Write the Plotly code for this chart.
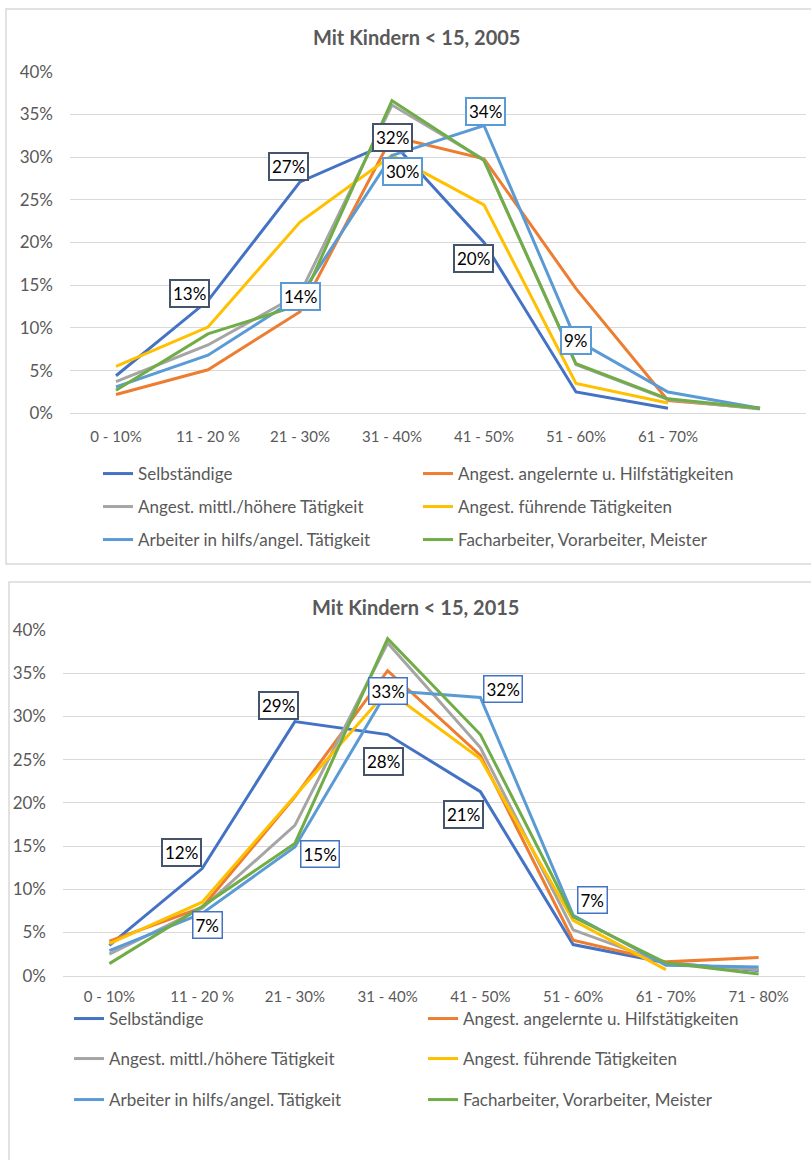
import plotly.graph_objects as go

# ---------------- data ----------------
categories_2005 = ["0 - 10%", "11 - 20 %", "21 - 30%", "31 - 40%", "41 - 50%", "51 - 60%", "61 - 70%", ""]
categories_2015 = ["0 - 10%", "11 - 20 %", "21 - 30%", "31 - 40%", "41 - 50%", "51 - 60%", "61 - 70%", "71 - 80%"]

series_names = [
    "Selbständige",
    "Angest. angelernte u. Hilfstätigkeiten",
    "Angest. mittl./höhere Tätigkeit",
    "Angest. führende Tätigkeiten",
    "Arbeiter in hilfs/angel. Tätigkeit",
    "Facharbeiter, Vorarbeiter, Meister",
]
series_colors = ["#4472C4", "#ED7D31", "#A5A5A5", "#FFC000", "#5B9BD5", "#70AD47"]

# values in percent, 2005
selb_2005 = [4.4, 13.2, 27.1, 31.8, 20.0, 2.5, 0.6, None]
angel_2005 = [2.2, 5.1, 11.9, 32.4, 29.8, 14.6, 1.5, 0.6]
mittl_2005 = [3.7, 8.0, 14.0, 36.1, 29.7, 5.7, 1.6, 0.5]
fuehr_2005 = [5.5, 10.1, 22.4, 30.2, 24.4, 3.5, 1.2, None]
arbhilf_2005 = [3.1, 6.8, 13.7, 30.2, 33.7, 8.6, 2.5, 0.6]
fach_2005 = [2.7, 9.3, 12.7, 36.6, 29.6, 5.8, 1.7, 0.6]

# values in percent, 2015
selb_2015 = [3.5, 12.4, 29.4, 27.9, 21.3, 3.6, 1.5, 0.6]
angel_2015 = [4.0, 7.9, 20.7, 35.3, 25.5, 4.1, 1.6, 2.1]
mittl_2015 = [2.5, 7.8, 17.4, 38.5, 26.4, 5.3, 1.4, 0.7]
fuehr_2015 = [3.7, 8.5, 20.8, 33.0, 25.1, 6.4, 0.7, None]
arbhilf_2015 = [2.9, 7.2, 14.9, 33.0, 32.2, 7.0, 1.2, 1.0]
fach_2015 = [1.4, 8.0, 15.3, 39.0, 27.9, 6.8, 1.5, 0.2]

y_ticks = [0, 5, 10, 15, 20, 25, 30, 35, 40]
y_tick_labels = [f"{t}%" for t in y_ticks]

data_2005 = [selb_2005, angel_2005, mittl_2005, fuehr_2005, arbhilf_2005, fach_2005]
data_2015 = [selb_2015, angel_2015, mittl_2015, fuehr_2015, arbhilf_2015, fach_2015]

# data labels: (series index, point index, xshift, yshift, border colour, border width)
labels_2005 = [
    (0, 1, -19, 7, "#44546A", 2), (0, 2, -12, 15, "#44546A", 2),
    (0, 3, 0, 4, "#44546A", 2), (0, 4, -11, -16, "#44546A", 2),
    (4, 2, 0, 0, "#5B9BD5", 2), (4, 3, 10, -16, "#5B9BD5", 2),
    (4, 4, 1, 14, "#5B9BD5", 2), (4, 5, 0, -1, "#5B9BD5", 2),
]
labels_2015 = [
    (0, 1, -21, 16, "#44546A", 2), (0, 2, -16, 16, "#44546A", 2),
    (0, 3, -4, -27, "#44546A", 2), (0, 4, -17, -23, "#44546A", 2),
    (4, 1, 5, -12, "#4472C4", 1.5), (4, 2, 25, -7, "#4472C4", 1.5),
    (4, 3, 0, 0, "#4472C4", 1.5), (4, 4, 23, 8, "#4472C4", 1.5),
    (4, 5, 19, 15, "#4472C4", 1.5),
]

# ---------------- layout helpers ----------------
W, H = 811, 1160
FONT = "Lato"
TXT = "#595959"
GRID = "#D9D9D9"


def px_x(p):
    return p / W


def px_y(p):
    return 1 - p / H


fig = go.Figure()

panels = [
    dict(data=data_2005, cats=categories_2005, xa="x", ya="y", labels=labels_2005,
         legend_cols=[103, 423], legend_rows=[474, 507, 540], legend_start=1),
    dict(data=data_2015, cats=categories_2015, xa="x2", ya="y2", labels=labels_2015,
         legend_cols=[74, 428], legend_rows=[1019, 1059, 1100], legend_start=7),
]

annotations = []
legend_layouts = {}
for p in panels:
    xs = list(range(len(p["cats"])))
    for si, vals in enumerate(p["data"]):
        lg_num = p["legend_start"] + si
        lg_name = "legend" if lg_num == 1 else f"legend{lg_num}"
        fig.add_trace(go.Scatter(
            x=xs, y=vals, mode="lines", name=series_names[si],
            line=dict(color=series_colors[si], width=3),
            xaxis=p["xa"], yaxis=p["ya"], legend=lg_name, showlegend=True,
            hoverinfo="skip",
        ))
        row, col = si // 2, si % 2
        legend_layouts[lg_name] = dict(
            x=px_x(p["legend_cols"][col] - 5), xanchor="left",
            y=px_y(p["legend_rows"][row]), yanchor="middle",
            orientation="h", bgcolor="rgba(0,0,0,0)", borderwidth=0,
            font=dict(family=FONT, size=17, color=TXT),
        )
    for (si, pi, dx, dy, bc, bw) in p["labels"]:
        v = p["data"][si][pi]
        annotations.append(dict(
            x=pi, y=v, xref=p["xa"], yref=p["ya"], text=f"{round(v)}%",
            showarrow=False, xshift=dx, yshift=dy,
            font=dict(family=FONT, size=17, color="#000000"),
            bgcolor="#FFFFFF", bordercolor=bc, borderwidth=bw, borderpad=2,
        ))

# titles
annotations.append(dict(text="<b>Mit Kindern < 15, 2005</b>", x=px_x(416), y=px_y(37),
                        xref="paper", yref="paper", showarrow=False,
                        xanchor="center", yanchor="middle",
                        font=dict(family=FONT, size=20, color=TXT)))
annotations.append(dict(text="<b>Mit Kindern < 15, 2015</b>", x=px_x(415), y=px_y(607),
                        xref="paper", yref="paper", showarrow=False,
                        xanchor="center", yanchor="middle",
                        font=dict(family=FONT, size=20, color=TXT)))

axis_common_x = dict(
    range=[-0.5, 7.5], showgrid=False, zeroline=False, showline=True,
    linecolor=GRID, linewidth=1, ticks="outside", tickcolor="rgba(0,0,0,0)",
    tickfont=dict(family=FONT, size=15, color=TXT), automargin=False, fixedrange=True,
)
axis_common_y = dict(
    range=[0, 40], tickvals=y_ticks, ticktext=y_tick_labels, showgrid=True, gridcolor=GRID,
    gridwidth=1, zeroline=False, showline=False, ticks="", ticklabelstandoff=16,
    tickfont=dict(family=FONT, size=17, color=TXT), automargin=False, fixedrange=True,
)

fig.update_layout(
    width=W, height=H, margin=dict(l=0, r=0, t=0, b=0),
    paper_bgcolor="#FFFFFF", plot_bgcolor="#FFFFFF",
    xaxis=dict(axis_common_x, domain=[px_x(70), px_x(806)], anchor="y", ticklen=10,
               tickvals=list(range(len(categories_2005))), ticktext=categories_2005),
    yaxis=dict(axis_common_y, domain=[px_y(413.3), px_y(71.7)], anchor="x"),
    xaxis2=dict(axis_common_x, domain=[px_x(63), px_x(805)], anchor="y2", ticklen=7,
                tickvals=list(range(len(categories_2015))), ticktext=categories_2015),
    yaxis2=dict(axis_common_y, domain=[px_y(975.7), px_y(630)], anchor="x2"),
    annotations=annotations,
    shapes=[
        dict(type="rect", xref="paper", yref="paper", x0=px_x(6), x1=px_x(815),
             y0=px_y(564), y1=px_y(9), line=dict(color=GRID, width=1.5)),
        dict(type="rect", xref="paper", yref="paper", x0=px_x(9), x1=px_x(815),
             y0=px_y(1170), y1=px_y(582), line=dict(color=GRID, width=1.5)),
    ],
    **legend_layouts,
)

fig.write_html(
    "out.html",
    config={"displayModeBar": False},
    post_script="document.body.style.margin='0px';document.body.style.overflow='hidden';",
)
